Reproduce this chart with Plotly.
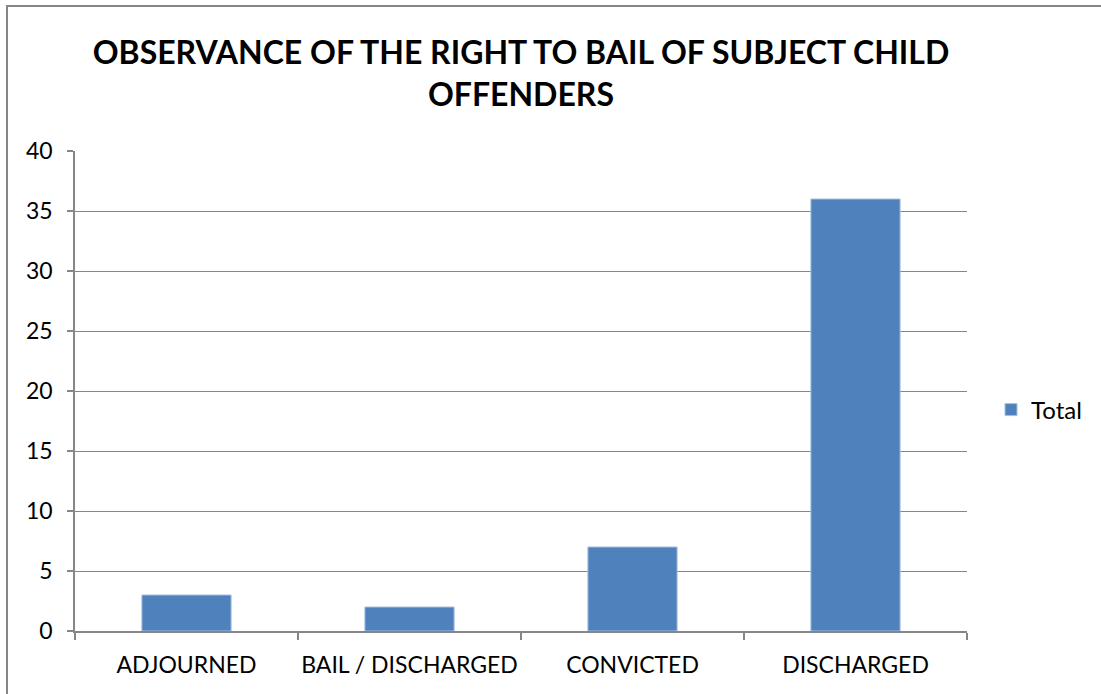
import plotly.graph_objects as go

categories = ["ADJOURNED", "BAIL / DISCHARGED", "CONVICTED", "DISCHARGED"]
totals = [3, 2, 7, 36]
series_name = "Total"
y_ticks = [0, 5, 10, 15, 20, 25, 30, 35, 40]

W, H = 1101, 694
L, R, T, B = 75, 967, 151, 631
pw, ph = R - L, B - T

font_family = "Lato"

fig = go.Figure()
fig.add_trace(go.Bar(
    x=categories, y=totals, name=series_name,
    marker=dict(color="#4F81BD", line=dict(color="#A7C0DE", width=1)),
))

fig.update_layout(
    width=W, height=H,
    margin=dict(l=L, r=W - R, t=T, b=H - B, pad=0, autoexpand=False),
    paper_bgcolor="white", plot_bgcolor="white",
    font=dict(family=font_family, size=24, color="black"),
    title=dict(
        text="<b>OBSERVANCE OF THE RIGHT TO BAIL OF SUBJECT CHILD<br>OFFENDERS</b>",
        x=0.5, xanchor="center", xref="paper",
        y=1 - 64 / H, yanchor="top", yref="container",
        font=dict(size=32, family=font_family, color="black"),
    ),
    bargap=0.6,
    showlegend=True,
    legend=dict(
        x=(991 - L) / pw, xanchor="left", y=(B - 410) / ph, yanchor="middle",
        font=dict(size=24, family=font_family, color="black"),
        bgcolor="rgba(0,0,0,0)",
    ),
    xaxis=dict(
        showline=True, linecolor="#868686", linewidth=1.5,
        ticks="outside", ticklen=7, tickcolor="#868686", tickwidth=1.5,
        tickson="boundaries", showgrid=False, tickangle=0, automargin=False,
        ticklabelstandoff=13,
        tickfont=dict(size=23, family=font_family, color="black"),
    ),
    yaxis=dict(
        range=[0, 40], tickvals=y_ticks, automargin=False,
        showline=True, linecolor="#868686", linewidth=1.5,
        ticks="outside", ticklen=6, tickcolor="#868686", tickwidth=1.5,
        ticklabelstandoff=10,
        showgrid=True, gridcolor="#868686", gridwidth=1.2,
        zeroline=False,
        tickfont=dict(size=23, family=font_family, color="black"),
    ),
)

fig.add_shape(
    type="rect", xref="paper", yref="paper",
    x0=(7 - L) / pw, x1=(1110 - L) / pw,
    y0=(B - 710) / ph, y1=(B - 6) / ph,
    line=dict(color="#868686", width=2), fillcolor="rgba(0,0,0,0)",
    layer="below",
)

fig.write_html("out.html", config={"displayModeBar": False},
               post_script="document.body.style.margin='0';")
